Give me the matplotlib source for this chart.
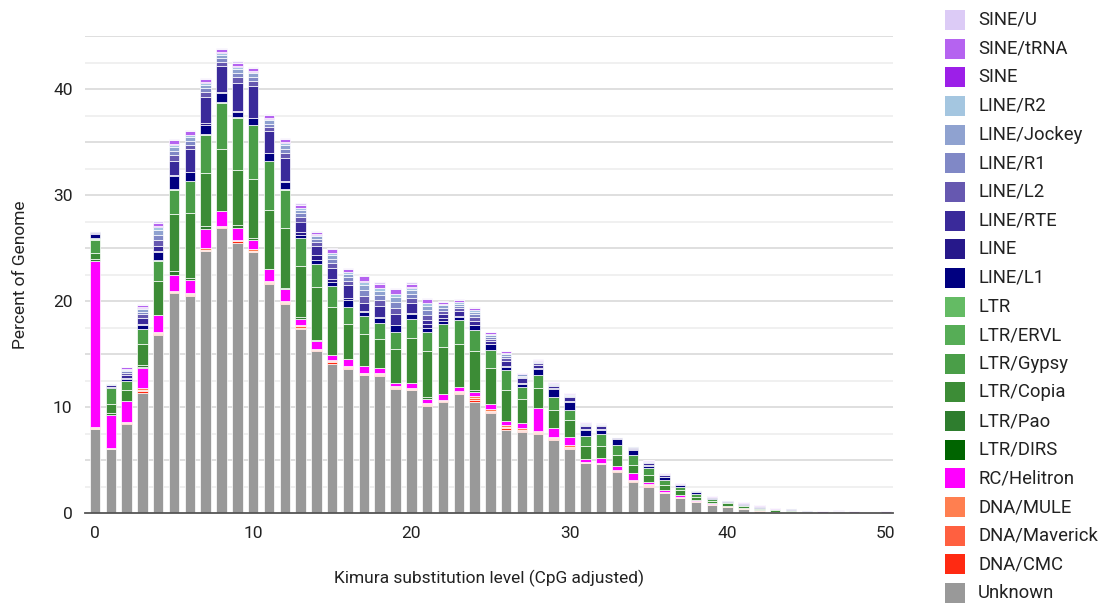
import numpy as np
import matplotlib
matplotlib.use("Agg")
import matplotlib.pyplot as plt
from matplotlib.patches import Rectangle

plt.rcParams['font.family'] = ['Roboto', 'DejaVu Sans']

# Kimura substitution level (CpG adjusted)
kimura = list(range(0, 51))

# percent of genome per repeat class
unknown = [7.9, 6.0, 8.4, 11.3, 16.8, 20.8, 20.5, 24.7, 26.9, 25.5, 24.6, 21.6, 19.7, 17.4, 15.3, 14.1, 13.6,
           13.0, 12.95, 11.7, 11.6, 10.05, 10.5, 11.2, 10.5, 9.4, 7.85, 7.6, 7.5, 6.9, 6.0, 4.7, 4.6, 3.9, 2.95,
           2.5, 1.85, 1.4, 1.07, 0.76, 0.6, 0.38, 0.22, 0.1, 0.05, 0, 0, 0, 0, 0, 0]
dna_cmc = [0.05, 0, 0.05, 0.25, 0.05, 0.03, 0.05, 0.05, 0.05, 0.15, 0.05, 0.1, 0.1, 0.1, 0.05, 0.1, 0.05,
           0.05, 0.05, 0.05, 0.05, 0.1, 0.05, 0.1, 0.2, 0.15, 0.15, 0.15, 0.05, 0.05, 0.15, 0.05, 0.05, 0.05, 0.05,
           0.05, 0.05, 0, 0, 0, 0, 0, 0, 0, 0, 0, 0, 0, 0, 0, 0]
dna_maverick = [0.05, 0.05, 0.05, 0.1, 0.1, 0.05, 0.1, 0.1, 0.05, 0.05, 0.1, 0.1, 0.1, 0.1, 0.05, 0.1, 0.1,
                0.05, 0.1, 0.1, 0.05, 0.1, 0.05, 0.1, 0.15, 0.1, 0.15, 0.1, 0.1, 0.1, 0.1, 0.05, 0.05, 0.05, 0.05,
                0.05, 0.05, 0.05, 0, 0.04, 0, 0.03, 0, 0, 0, 0, 0, 0, 0, 0, 0]
dna_mule = [0.1, 0.05, 0.1, 0.15, 0.15, 0.07, 0.15, 0.15, 0.1, 0.1, 0.15, 0.1, 0.1, 0.1, 0.1, 0.1, 0.1,
            0.1, 0.1, 0.1, 0.1, 0.1, 0.1, 0.1, 0.15, 0.15, 0.15, 0.15, 0.1, 0.1, 0.15, 0.05, 0.05, 0.05, 0.1,
            0.15, 0.05, 0.05, 0.05, 0.05, 0.03, 0.04, 0.02, 0, 0, 0, 0, 0, 0, 0, 0]
rc_helitron = [15.7, 3.1, 2.0, 1.9, 1.6, 1.55, 1.2, 1.8, 1.4, 1.1, 0.9, 1.1, 1.1, 0.6, 0.7, 0.5, 0.65,
               0.7, 0.5, 0.35, 0.5, 0.45, 0.55, 0.4, 0.4, 0.5, 0.4, 0.5, 2.15, 0.85, 0.75, 0.25, 0.45, 0.4, 0.6,
               0.2, 0.15, 0.2, 0.13, 0.1, 0.05, 0.03, 0.01, 0, 0, 0, 0, 0, 0, 0, 0]
ltr_dirs = [0, 0, 0, 0.05, 0, 0, 0, 0, 0, 0, 0, 0, 0, 0, 0, 0, 0,
            0, 0, 0, 0, 0, 0, 0, 0, 0, 0, 0, 0, 0, 0, 0, 0, 0, 0,
            0, 0, 0, 0, 0, 0, 0, 0, 0, 0, 0, 0, 0, 0, 0, 0]
ltr_pao = [0.15, 0.2, 0, 0.2, 0, 0.3, 0.2, 0.3, 0, 0.3, 0.15, 0, 0.15, 0.2, 0.15, 0, 0,
           0, 0, 0, 0, 0.15, 0, 0, 0.2, 0, 0, 0, 0, 0, 0, 0, 0, 0, 0,
           0, 0, 0, 0, 0, 0, 0, 0, 0, 0, 0, 0, 0, 0, 0, 0]
ltr_copia = [0.55, 0.9, 1.0, 2.0, 3.2, 5.4, 6.1, 5.0, 5.8, 5.2, 5.55, 5.6, 5.65, 4.8, 4.95, 4.5, 3.3,
             3.0, 2.7, 3.2, 4.2, 4.35, 4.45, 4.0, 3.7, 3.4, 2.9, 2.25, 1.85, 1.75, 1.65, 1.2, 1.15, 1.05, 0.8,
             0.65, 0.45, 0.5, 0.3, 0.2, 0.22, 0.17, 0.15, 0.15, 0.12, 0, 0, 0, 0, 0, 0]
ltr_gypsy = [1.3, 1.5, 0.9, 1.4, 1.9, 2.3, 3.0, 3.6, 4.4, 4.9, 5.1, 4.6, 3.6, 2.6, 2.2, 2.0, 1.6,
             1.7, 1.5, 1.6, 1.8, 1.8, 2.1, 2.3, 2.0, 1.7, 1.9, 1.15, 1.25, 1.15, 0.95, 1.0, 1.15, 0.9, 0.95,
             0.6, 0.5, 0.3, 0.25, 0.2, 0.15, 0.15, 0.1, 0.1, 0.08, 0.05, 0, 0, 0, 0, 0]
ltr_ervl = [0.05, 0, 0, 0.05, 0.05, 0.05, 0.05, 0.05, 0.05, 0.05, 0.05, 0.05, 0.05, 0, 0, 0, 0,
            0, 0, 0, 0, 0, 0, 0, 0, 0, 0, 0, 0, 0, 0, 0, 0, 0, 0,
            0, 0, 0, 0, 0, 0, 0, 0, 0, 0, 0, 0, 0, 0, 0, 0]
ltr = [0.05, 0, 0, 0, 0.05, 0, 0, 0, 0, 0, 0, 0, 0, 0, 0, 0, 0,
       0, 0, 0, 0, 0, 0, 0, 0, 0, 0, 0, 0, 0, 0, 0, 0, 0, 0,
       0, 0, 0, 0, 0, 0, 0, 0, 0, 0, 0, 0, 0, 0, 0, 0]
line_l1 = [0.45, 0.05, 0.1, 0.3, 0.7, 1.2, 0.8, 0.9, 0.9, 0.5, 0.6, 0.7, 0.7, 0.3, 0.4, 0.35, 0.7,
           0.4, 0.5, 0.6, 0.5, 0.35, 0.3, 0.3, 0.4, 0.5, 0.3, 0.3, 0.6, 0.8, 0.75, 0.55, 0.35, 0.55, 0.45,
           0.25, 0.3, 0.15, 0.2, 0.1, 0.05, 0.05, 0.05, 0.05, 0.08, 0.07, 0, 0, 0, 0, 0]
line = [0.05, 0.05, 0.1, 0.1, 0.1, 0.1, 0.05, 0.1, 0.1, 0.05, 0.05, 0.05, 0.05, 0.3, 0.4, 0.35, 0.2,
        0.1, 0.05, 0.05, 0.05, 0.4, 0.3, 0.05, 0.05, 0.05, 0.05, 0.05, 0.1, 0.05, 0.05, 0.05, 0.05, 0.05, 0.05,
        0.05, 0, 0, 0, 0, 0, 0, 0, 0, 0, 0, 0, 0, 0, 0, 0]
line_rte = [0.1, 0.15, 0.3, 0.6, 0.5, 1.4, 2.1, 2.5, 2.4, 2.7, 3.0, 2.0, 2.2, 1.0, 0.9, 1.0, 1.2,
            0.7, 1.1, 1.0, 1.0, 0.35, 0.4, 0.5, 0.4, 0.3, 0.5, 0.5, 0.3, 0.25, 0.35, 0.35, 0.3, 0.1, 0.15,
            0.2, 0.15, 0.05, 0.05, 0.05, 0.05, 0.05, 0.05, 0, 0.08, 0.1, 0, 0.05, 0, 0, 0]
line_l2 = [0.04, 0.06, 0.2, 0.33, 0.55, 0.5, 0.45, 0.45, 0.42, 0.5, 0.45, 0.4, 0.47, 0.42, 0.35, 0.47, 0.4,
           0.67, 0.55, 0.62, 0.47, 0.52, 0.3, 0.27, 0.33, 0.21, 0.24, 0.12, 0.12, 0.1, 0.1, 0.09, 0.06, 0.03, 0.05,
           0.08, 0.05, 0.03, 0.04, 0.01, 0.02, 0.03, 0.03, 0.01, 0.01, 0.01, 0, 0.05, 0, 0, 0]
line_r1 = [0.03, 0.05, 0.16, 0.26, 0.45, 0.4, 0.36, 0.36, 0.34, 0.4, 0.36, 0.32, 0.38, 0.34, 0.28, 0.38, 0.32,
           0.54, 0.44, 0.5, 0.38, 0.42, 0.24, 0.22, 0.26, 0.17, 0.19, 0.1, 0.1, 0.08, 0.08, 0.07, 0.05, 0.02, 0.04,
           0.06, 0.04, 0.02, 0.03, 0.01, 0.02, 0.02, 0.02, 0.01, 0.01, 0.01, 0, 0, 0, 0, 0]
line_jockey = [0.02, 0.05, 0.16, 0.26, 0.5, 0.4, 0.36, 0.36, 0.34, 0.4, 0.36, 0.32, 0.38, 0.34, 0.28, 0.38, 0.32,
               0.54, 0.44, 0.5, 0.38, 0.42, 0.24, 0.22, 0.26, 0.17, 0.19, 0.1, 0.1, 0.08, 0.08, 0.07, 0.05, 0.02, 0.04,
               0.06, 0.04, 0.02, 0.03, 0.01, 0.01, 0.02, 0.02, 0, 0.01, 0.01, 0, 0, 0, 0, 0]
line_r2 = [0.01, 0.03, 0.08, 0.13, 0.3, 0.2, 0.18, 0.18, 0.17, 0.2, 0.18, 0.16, 0.19, 0.17, 0.14, 0.19, 0.16,
           0.27, 0.22, 0.25, 0.19, 0.21, 0.12, 0.11, 0.13, 0.09, 0.1, 0.05, 0.05, 0.04, 0.04, 0.03, 0.03, 0.01, 0.02,
           0.03, 0.02, 0.01, 0.01, 0, 0.01, 0.01, 0.01, 0, 0, 0, 0, 0, 0, 0, 0]
sine = [0, 0, 0.02, 0.02, 0.03, 0.04, 0.03, 0.03, 0.03, 0.04, 0.03, 0.03, 0.04, 0.03, 0.03, 0.04, 0.03,
        0.05, 0.04, 0.05, 0.04, 0.04, 0.02, 0.02, 0.02, 0.02, 0.02, 0.01, 0.01, 0.01, 0.01, 0.01, 0, 0, 0,
        0, 0, 0, 0, 0, 0, 0, 0, 0, 0, 0, 0, 0, 0, 0, 0]
sine_trna = [0.04, 0.05, 0.14, 0.23, 0.37, 0.36, 0.32, 0.32, 0.3, 0.36, 0.32, 0.29, 0.34, 0.3, 0.25, 0.34, 0.29,
             0.49, 0.4, 0.45, 0.34, 0.38, 0.22, 0.2, 0.23, 0.15, 0.17, 0.09, 0.09, 0.07, 0.07, 0.06, 0.05, 0.02, 0.04,
             0.05, 0.04, 0.03, 0.03, 0.03, 0.03, 0.03, 0.03, 0.04, 0.05, 0.05, 0.15, 0.12, 0.15, 0, 0.15]
sine_u = [0.01, 0.01, 0.04, 0.07, 0.1, 0.1, 0.1, 0.1, 0.1, 0.1, 0.1, 0.08, 0.1, 0.1, 0.07, 0.1, 0.08,
          0.14, 0.11, 0.13, 0.1, 0.11, 0.06, 0.06, 0.07, 0.04, 0.04, 0.03, 0.03, 0.02, 0.02, 0.02, 0.01, 0, 0.01,
          0.02, 0.01, 0, 0.01, 0, 0, 0, 0, 0, 0, 0, 0.05, 0.03, 0.05, 0, 0.05]

# bottom to top stacking order
series = [
    ("Unknown", unknown, "#999999"),
    ("DNA/CMC", dna_cmc, "#ff2a12"),
    ("DNA/Maverick", dna_maverick, "#ff6040"),
    ("DNA/MULE", dna_mule, "#ff7f50"),
    ("RC/Helitron", rc_helitron, "#ff00ff"),
    ("LTR/DIRS", ltr_dirs, "#006400"),
    ("LTR/Pao", ltr_pao, "#2e7d2e"),
    ("LTR/Copia", ltr_copia, "#3c8c36"),
    ("LTR/Gypsy", ltr_gypsy, "#4a9e48"),
    ("LTR/ERVL", ltr_ervl, "#56ad56"),
    ("LTR", ltr, "#64bb64"),
    ("LINE/L1", line_l1, "#000080"),
    ("LINE", line, "#26188a"),
    ("LINE/RTE", line_rte, "#3a2a9a"),
    ("LINE/L2", line_l2, "#6658b0"),
    ("LINE/R1", line_r1, "#8088c6"),
    ("LINE/Jockey", line_jockey, "#8fa2d0"),
    ("LINE/R2", line_r2, "#a4c6e0"),
    ("SINE", sine, "#9c1fe8"),
    ("SINE/tRNA", sine_trna, "#b563f0"),
    ("SINE/U", sine_u, "#dccbf6"),
]

W, H = 1109, 605
fig = plt.figure(figsize=(W / 100, H / 100), dpi=100)
ax = fig.add_axes([85 / W, 1 - 513 / H, (893 - 85) / W, (513 - 36) / H])

bottom = np.zeros(len(kimura))
for name, vals, col in series:
    vals = np.array(vals)
    ax.bar(kimura, vals, bottom=bottom, width=0.66, color=col, edgecolor="white", linewidth=0.5, label=name, zorder=3)
    bottom += vals

ax.set_xlim(-0.63, 50.45)
ax.set_ylim(0, 45)

# grid: darker every 5, lighter in between
for yv in np.arange(2.5, 45.1, 2.5):
    c = "#dcdcdc" if yv % 5 == 0 else "#efefef"
    ax.axhline(yv, color=c, lw=1.3, zorder=1)

for s in ["top", "right", "left"]:
    ax.spines[s].set_visible(False)
ax.spines["bottom"].set_color("#555555")
ax.spines["bottom"].set_linewidth(1.3)
ax.spines["bottom"].set_zorder(4)

ax.set_xticks([0, 10, 20, 30, 40, 50])
ax.set_yticks([0, 10, 20, 30, 40])
ax.tick_params(length=0, labelsize=12.5, labelcolor="#222222")
ax.tick_params(axis="x", pad=9)
ax.tick_params(axis="y", pad=9)
ax.set_xlabel("Kimura substitution level (CpG adjusted)", fontsize=12.5, color="#222222", labelpad=21)
ax.set_ylabel("Percent of Genome", fontsize=12.5, color="#222222", labelpad=18)

# legend, top of stack first
for i, (name, vals, col) in enumerate(series[::-1]):
    yc = 20 + i * 28.65
    fig.patches.append(Rectangle((945 / W, 1 - (yc + 10) / H), 20 / W, 20 / H,
                                 transform=fig.transFigure, facecolor=col, edgecolor="none"))
    fig.text(978 / W, 1 - yc / H, name, fontsize=13.3, color="#222222", va="center", ha="left")

fig.savefig("out.png", dpi=100)
